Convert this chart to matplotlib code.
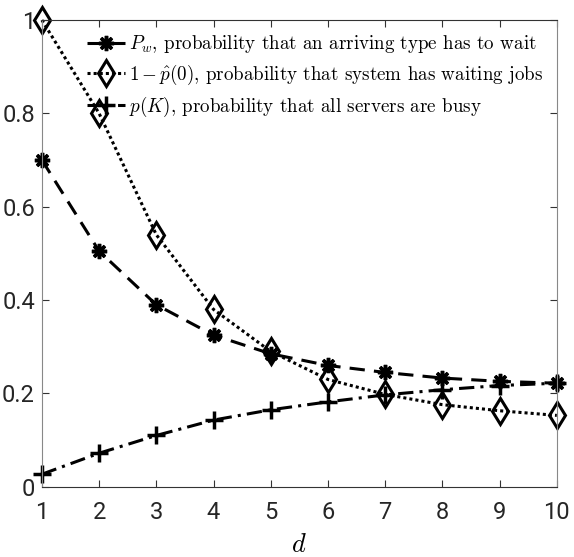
import matplotlib.pyplot as plt
from matplotlib import font_manager

d = [1, 2, 3, 4, 5, 6, 7, 8, 9, 10]
p_wait = [0.700, 0.505, 0.390, 0.325, 0.285, 0.260, 0.245, 0.233, 0.226, 0.222]
p_jobs = [1.000, 0.800, 0.540, 0.380, 0.290, 0.230, 0.198, 0.176, 0.163, 0.153]
p_busy = [0.027, 0.072, 0.110, 0.143, 0.165, 0.182, 0.197, 0.208, 0.217, 0.222]

labels = [r'$P_w$, probability that an arriving type has to wait',
          r'$1-\hat{p}(0)$, probability that system has waiting jobs',
          r'$p(K)$, probability that all servers are busy']

names = {f.name for f in font_manager.fontManager.ttflist}
tickfont = 'Liberation Sans Narrow' if 'Liberation Sans Narrow' in names else 'Roboto'

plt.rcParams['mathtext.fontset'] = 'cm'

fig = plt.figure(figsize=(5.74, 5.57), dpi=100)
ax = fig.add_axes([0.073, 0.126, 0.897, 0.838])

ax.plot(d, p_wait, color='k', ls=(0, (5, 3)), lw=2.2, marker=(8, 2, 0),
        ms=11, mew=2.5, label=labels[0], clip_on=False)
ax.plot(d, p_jobs, color='k', ls=(0, (1, 1)), lw=2.2, marker='d',
        ms=13, mew=2.2, mfc='none', label=labels[1], clip_on=False)
ax.plot(d, p_busy, color='k', ls=(0, (5, 2, 1, 2)), lw=2.2, marker='+',
        ms=13, mew=2.5, label=labels[2], clip_on=False)

ax.set_xlim(1, 10)
ax.set_ylim(0, 1)
ax.set_xticks(d)
ax.set_yticks([0, 0.2, 0.4, 0.6, 0.8, 1])
ax.set_yticklabels(['0', '0.2', '0.4', '0.6', '0.8', '1'])
ax.tick_params(direction='in', top=True, right=True, length=5, colors='#333333',
               labelcolor='#262626', labelsize=17)
ax.tick_params(axis='x', pad=10)
ax.tick_params(axis='y', pad=5)
for lab in ax.get_xticklabels() + ax.get_yticklabels():
    lab.set_fontfamily(tickfont)
for s in ['left', 'right']:
    ax.spines[s].set_color('#888888')
for s in ['top', 'bottom']:
    ax.spines[s].set_color('#333333')

ax.set_xlabel(r'$d$', fontsize=19, labelpad=6)

leg = ax.legend(loc='upper right', frameon=False, handlelength=2.0,
                handletextpad=0.2, labelspacing=0.4, borderaxespad=0.3,
                prop={'family': 'cmr10', 'size': 13.7})

fig.savefig('out.png', dpi=100)
